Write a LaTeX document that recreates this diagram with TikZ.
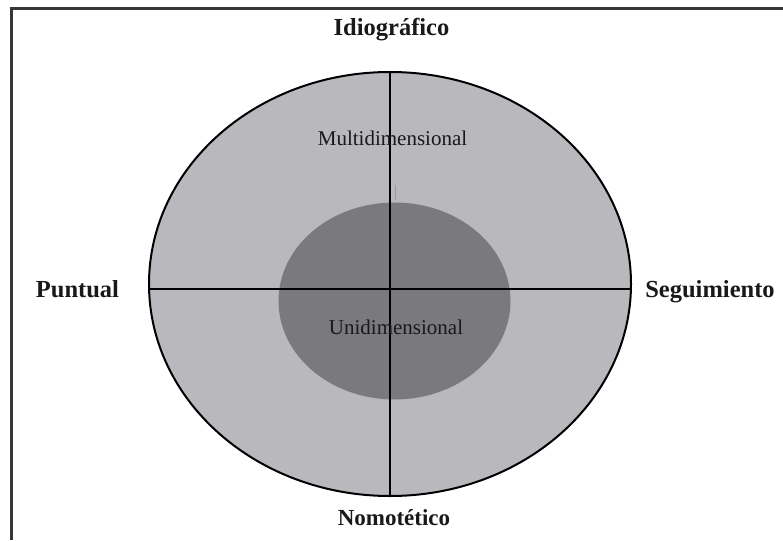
\documentclass[tikz,border=0pt]{standalone}
\usepackage{fontspec}
\setmainfont{Liberation Serif}
\usetikzlibrary{shapes.geometric}
\definecolor{outerfill}{RGB}{184,184,189}
\definecolor{innerfill}{RGB}{121,121,126}
\definecolor{framecol}{RGB}{55,55,55}
\definecolor{txt}{RGB}{25,25,25}
\tikzset{
  axislabel/.style={font=\fontsize{24.5}{28}\selectfont\bfseries, text=txt, anchor=base, inner sep=0pt},
  zonelabel/.style={font=\fontsize{21}{24}\selectfont, text=txt, anchor=base, inner sep=0pt},
  outerell/.style={ellipse, draw=black, line width=2pt, fill=outerfill, minimum width=482pt, minimum height=424pt, inner sep=0pt},
  innerell/.style={ellipse, fill=innerfill, minimum width=232pt, minimum height=197pt, inner sep=0pt},
  axisline/.style={draw=black, line width=2pt},
}
\begin{document}
\begin{tikzpicture}[x=1pt,y=-1pt]
\useasboundingbox (0,0) rectangle (783,540);
% frame (top and left sides)
\coordinate (fbl) at (11.5,540);
\coordinate (ftl) at (11.5,8.5);
\coordinate (ftr) at (783,8.5);
\draw[framecol, line width=2.5pt] (fbl) -- (ftl) -- (ftr);
% ellipses
\node[outerell] (outer) at (390,284) {};
\node[innerell] (inner) at (394.5,301) {};
% stray tick
\coordinate (t1) at (395,185);
\coordinate (t2) at (395,200);
\draw[gray!80, line width=1pt] (t1) -- (t2);
% axes
\coordinate (hl) at ([yshift=-5pt]outer.west);
\coordinate (hr) at ([yshift=-5pt]outer.east);
\draw[axisline] (outer.north) -- (outer.south);
\draw[axisline] (hl) -- (hr);
% labels
\node[axislabel] (idio) at (391.5,36) {Idiográfico};
\node[axislabel] (punt) at (77.5,297) {Puntual};
\node[axislabel] (segu) at (710,297) {Seguimiento};
\node[axislabel, font=\fontsize{23}{26}\selectfont\bfseries] (nomo) at (394,525) {Nomotético};
\node[zonelabel] (multi) at (392.5,146) {Multidimensional};
\node[zonelabel] (uni) at (396,334) {Unidimensional};
\end{tikzpicture}
\end{document}
